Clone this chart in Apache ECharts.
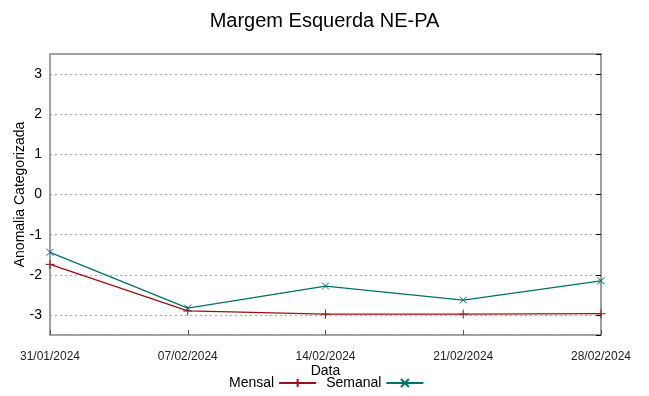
<!DOCTYPE html>
<html><head><meta charset="utf-8">
<script src="https://cdn.jsdelivr.net/npm/echarts@6/dist/echarts.min.js"></script>
<style>html,body{margin:0;padding:0;background:#fff}#c{width:649px;height:396px}</style>
</head><body><div id="c"></div>
<script>
const dates = ['31/01/2024','07/02/2024','14/02/2024','21/02/2024','28/02/2024'];
const mensal = [-1.74, -2.90, -2.98, -2.98, -2.97];
const semanal = [-1.44, -2.83, -2.28, -2.63, -2.15];
const yTicks = [-3,-2,-1,0,1,2,3];

function toDay(s){const [d,m,y]=s.split('/').map(Number);return Date.UTC(y,m-1,d)/86400000;}
const base = toDay(dates[0]);
function fmt(v){const dt=new Date((base+v)*86400000);const p=n=>String(n).padStart(2,'0');return p(dt.getUTCDate())+'/'+p(dt.getUTCMonth()+1)+'/'+dt.getUTCFullYear();}
const xs = dates.map(d=>toDay(d)-base);

const plus = 'path://M0,5L10,5M5,0L5,10';
const cross = 'path://M0,0L10,10M10,0L0,10';
const font = 'Liberation Sans';
const chart = echarts.init(document.getElementById('c'));
chart.setOption({
  animation:false,
  title:{text:'Margem Esquerda NE-PA',left:'center',top:6,textStyle:{fontFamily:font,fontSize:20,fontWeight:'normal',color:'#000'}},
  grid:{left:50,right:48,top:54,bottom:61,containLabel:false,outerBoundsMode:'none',show:true,borderColor:'#808080',borderWidth:1.5,backgroundColor:'transparent'},
  legend:{left:224,top:371,itemWidth:37,itemHeight:10,itemGap:9,align:'right',
    textStyle:{fontFamily:font,fontSize:14,color:'#000'},
    data:['Mensal','Semanal']},
  xAxis:{type:'value',min:0,max:xs[xs.length-1],interval:7,
    name:'Data',nameLocation:'middle',nameGap:29,nameMoveOverlap:false,nameTextStyle:{fontFamily:font,fontSize:14,color:'#000'},
    axisLine:{show:false,onZero:false},axisTick:{show:true,inside:true,length:5,lineStyle:{color:'#555'}},
    splitLine:{show:false},
    axisLabel:{margin:16,formatter:v=>fmt(v),fontFamily:font,fontSize:12,color:'#222',showMinLabel:true,showMaxLabel:true}},
  yAxis:[{type:'value',min:-3.5,max:3.5,splitNumber:7,
    name:'Anomalia Categorizada',nameLocation:'middle',nameGap:23,nameMoveOverlap:false,nameTextStyle:{fontFamily:font,fontSize:14,color:'#000'},
    axisLine:{show:false,onZero:false},axisTick:{show:false},
    axisLabel:{margin:8,fontFamily:font,fontSize:14,color:'#000',formatter:v=>yTicks.includes(v)?String(v):''},
    splitLine:{show:true,lineStyle:{color:'#aaa',type:[2,3],width:1}}},
   {type:'value',min:-3.5,max:3.5,splitNumber:7,position:'right',
    axisLine:{show:false,onZero:false},axisTick:{show:true,inside:true,length:5,lineStyle:{color:'#000'}},
    axisLabel:{show:false},splitLine:{show:false}}],
  series:[
    {name:'Mensal',type:'line',data:xs.map((x,i)=>[x,mensal[i]]),symbol:plus,symbolSize:9,showSymbol:true,
      lineStyle:{color:'#a01010',width:1.3},itemStyle:{color:'#a01010',borderColor:'#a01010',borderWidth:1}},
    {name:'Semanal',type:'line',data:xs.map((x,i)=>[x,semanal[i]]),symbol:cross,symbolSize:7,showSymbol:true,
      lineStyle:{color:'#007070',width:1.3},itemStyle:{color:'#007070',borderColor:'#007070',borderWidth:1}}
  ]
});
</script></body></html>
